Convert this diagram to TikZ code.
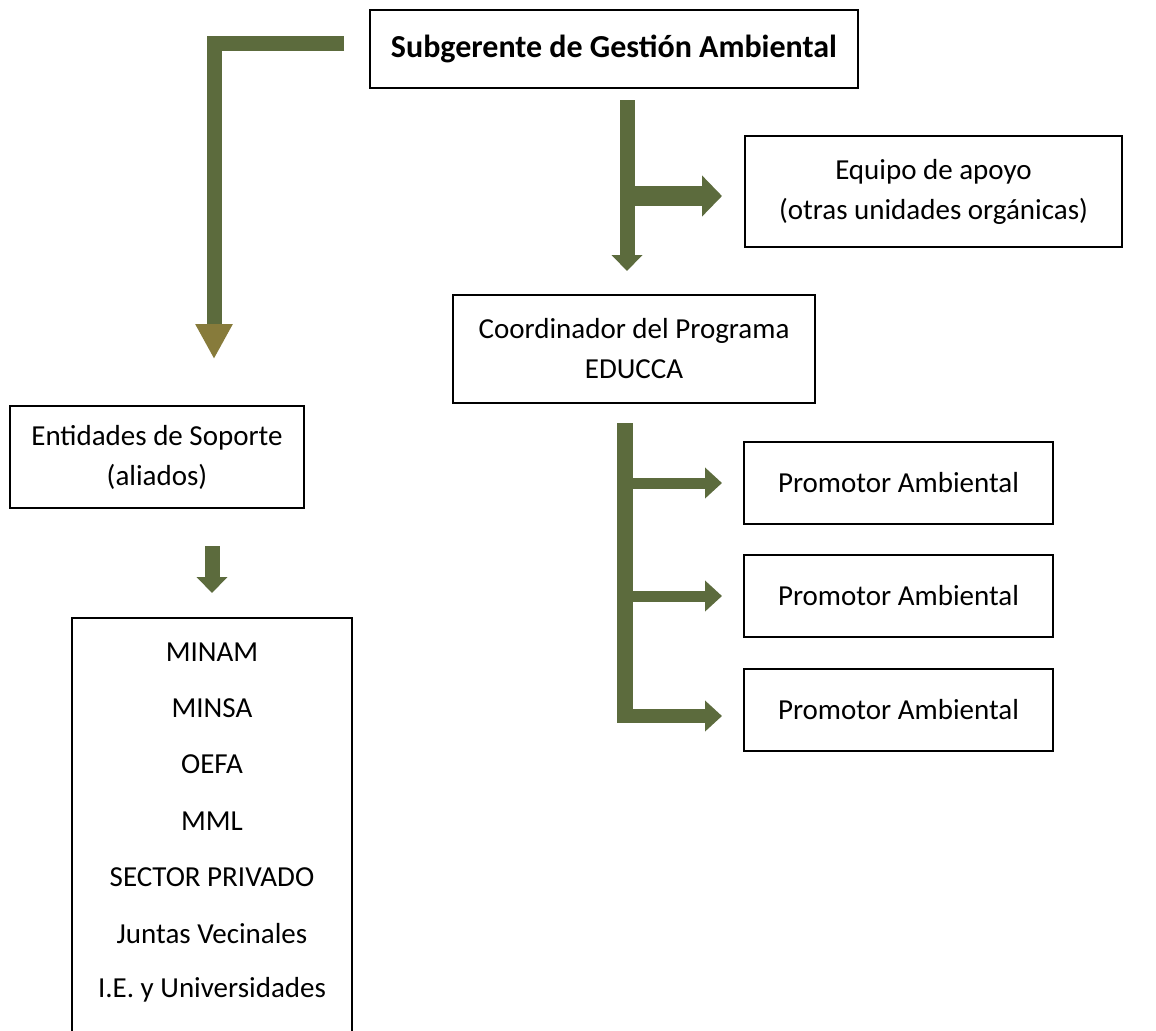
\documentclass[tikz,border=0pt]{standalone}
\usepackage{fontspec}
\setmainfont{Carlito}
\usetikzlibrary{arrows.meta}
\definecolor{verde}{HTML}{5C6B3D}
\definecolor{oro}{HTML}{877B3B}

\begin{document}
\begin{tikzpicture}[
    x=0.5pt, y=-0.5pt,
    caja/.style={rectangle, draw, line width=1pt, align=center, inner sep=0pt, font=\fontsize{14.5}{20}\selectfont},
    item/.style={font=\fontsize{14.5}{20}\selectfont},
    flechaL/.style={draw=verde, line width=7.5pt, -{Triangle[width=17.5pt, length=17.5pt, color=oro]}},
    flecha/.style={draw=verde, line width=7.5pt, -{Triangle[width=15pt, length=8pt, color=verde]}},
    rama/.style={draw=verde, line width=10pt, -{Triangle[width=20pt, length=10pt, color=verde]}},
    ramita/.style={draw=verde, line width=5.5pt, -{Triangle[width=15pt, length=8.5pt, color=verde]}},
    tronco/.style={draw=verde, line width=8pt}
]
    \path[use as bounding box, fill=white] (0,0) rectangle (1156,1030);
    % Jefatura
    \node[caja, minimum width=244pt, minimum height=39pt, font=\fontsize{16}{20}\selectfont\bfseries] (sub) at (614,49) {Subgerente de Gestión Ambiental};
    \node[caja, minimum width=188.5pt, minimum height=55.5pt] (equ) at (933.5,191.5) {Equipo de apoyo\\(otras unidades orgánicas)};
    \node[caja, minimum width=181pt, minimum height=54pt] (coord) at (634,349) {Coordinador del Programa\\EDUCCA};
    % Aliados
    \node[caja, minimum width=147pt, minimum height=51pt] (ent) at (157,457) {Entidades de Soporte\\(aliados)};
    \node[caja, anchor=north, minimum width=140pt, minimum height=220pt] (lista) at (212,617) {};
    \foreach \nombre [count=\i] in {MINAM, MINSA, OEFA, MML, SECTOR PRIVADO, Juntas Vecinales, I.E. y Universidades}
        \node[item] (item\i) at (212,652+56.3*\i-56.3) {\nombre};
    % Promotores
    \node[caja, minimum width=154.5pt, minimum height=41pt] (prom1) at (898.5,483) {Promotor Ambiental};
    \node[caja, minimum width=154.5pt, minimum height=41pt] (prom2) at (898.5,596) {Promotor Ambiental};
    \node[caja, minimum width=154.5pt, minimum height=41pt] (prom3) at (898.5,710) {Promotor Ambiental};
    % Flechas
    \coordinate (ramaA) at (620,196);
    \coordinate (finC) at (625,723);
    \coordinate (izqC) at (617,716);
    \draw[flechaL, shorten <=12.5pt, shorten >=23pt] ([yshift=3pt]sub.west) -| ([xshift=28.5pt]ent.north);
    \draw[flecha, shorten <=5.5pt, shorten >=11.5pt] ([xshift=6.5pt]sub.south) -- ([xshift=-3.5pt]coord.north);
    \draw[rama, shorten >=11pt] (ramaA) -- (ramaA -| equ.west);
    \draw[tronco, shorten <=9.5pt] (coord.south -| finC) -- (finC);
    \draw[ramita, shorten >=10.5pt] (izqC |- prom1.west) -- (prom1.west);
    \draw[ramita, shorten >=10.5pt] (izqC |- prom2.west) -- (prom2.west);
    \draw[ramita, line width=7pt, shorten >=10.5pt] (izqC) -- (izqC -| prom3.west);
    \draw[flecha, line width=7.5pt, shorten <=18.5pt, shorten >=12pt] (lista.north |- ent.south) -- (lista.north);
\end{tikzpicture}
\end{document}
